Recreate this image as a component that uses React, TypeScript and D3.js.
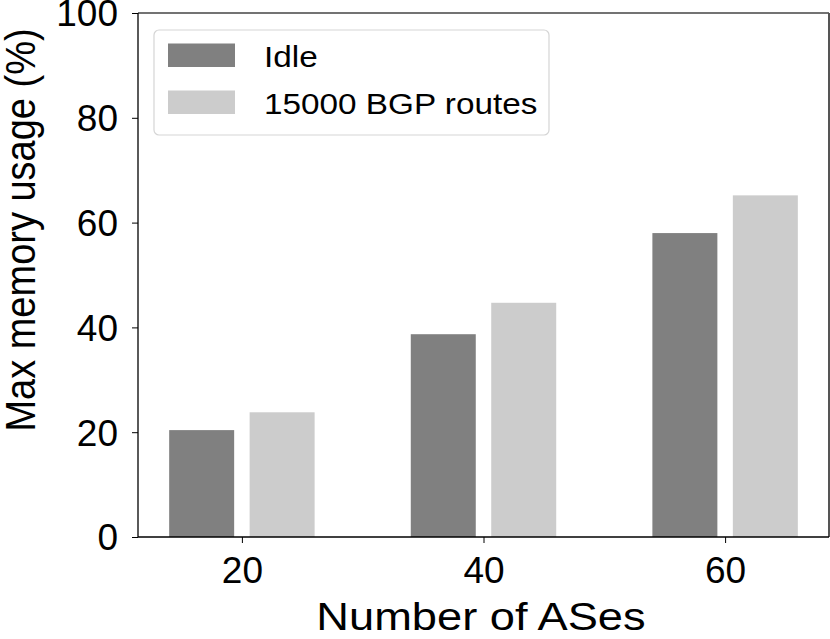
import React, { useEffect, useRef } from "react";
import * as d3 from "d3";

// chart data
const asCounts = [20, 40, 60];
const idleUsage = [20.4, 38.7, 58.0];
const bgpUsage = [23.8, 44.7, 65.2];
const seriesNames = ["Idle", "15000 BGP routes"];
const seriesColors = ["#808080", "#cccccc"];
const yTicks = [0, 20, 40, 60, 80, 100];

const App = () => {
  const svgRef = useRef<SVGSVGElement | null>(null);

  useEffect(() => {
    const width = 830;
    const height = 639;
    const left = 138;
    const right = 829;
    const top = 13;
    const bottom = 537;
    const font = "'Liberation Sans', Arial, Helvetica, sans-serif";
    const stretch = 1.16; // the figure's text is a bit wider than tall

    const svg = d3.select(svgRef.current).attr("width", width).attr("height", height);
    svg.selectAll("*").remove();

    const xScale = d3.scaleLinear().domain([11.4, 68.6]).range([left, right]);
    const yScale = d3.scaleLinear().domain([0, 100]).range([bottom, top]);

    const barW = 5.38; // in x units
    const offset = 3.33;
    const series = [idleUsage, bgpUsage];

    series.forEach((vals, si) => {
      const shift = si === 0 ? -offset : offset;
      svg
        .append("g")
        .selectAll("rect")
        .data(asCounts)
        .enter()
        .append("rect")
        .attr("x", (d) => xScale(d + shift - barW / 2))
        .attr("width", xScale(barW) - xScale(0))
        .attr("y", (d, i) => yScale(vals[i]))
        .attr("height", (d, i) => yScale(0) - yScale(vals[i]))
        .attr("fill", seriesColors[si]);
    });

    // spines
    svg.append("line").attr("x1", left).attr("x2", right).attr("y1", top).attr("y2", top)
      .attr("stroke", "#444").attr("stroke-width", 1.5);
    svg.append("line").attr("x1", right).attr("x2", right).attr("y1", top).attr("y2", bottom)
      .attr("stroke", "#555").attr("stroke-width", 2);

    const xAxis = d3.axisBottom(xScale).tickValues(asCounts).tickSize(6).tickPadding(14);
    const gx = svg.append("g").attr("transform", `translate(0,${bottom})`).call(xAxis);
    gx.select(".domain").attr("stroke", "#000").attr("stroke-width", 1.3)
      .attr("d", `M${left},0H${right}`);
    gx.selectAll("text").attr("font-family", font).attr("font-size", 37).attr("fill", "#000");

    const yAxis = d3.axisLeft(yScale).tickValues(yTicks).tickSize(6).tickPadding(14);
    const gy = svg.append("g").attr("transform", `translate(${left},0)`).call(yAxis);
    gy.select(".domain").attr("stroke", "#000").attr("stroke-width", 1.3)
      .attr("d", `M0,${top}V${bottom}`);
    gy.selectAll("text").attr("font-family", font).attr("font-size", 37).attr("fill", "#000")
      .attr("dy", "0.35em");

    svg.append("text")
      .attr("transform", `translate(481,630) scale(${stretch},1)`)
      .attr("text-anchor", "middle")
      .attr("font-family", font)
      .attr("font-size", 39)
      .text("Number of ASes");

    svg.append("text")
      .attr("transform", `translate(35,230) scale(1.12,1) rotate(-90)`)
      .attr("text-anchor", "middle")
      .attr("font-family", font)
      .attr("font-size", 38)
      .text("Max memory usage (%)");

    // legend
    const legend = svg.append("g");
    legend.append("rect")
      .attr("x", 154).attr("y", 30).attr("width", 395).attr("height", 105)
      .attr("rx", 5).attr("fill", "#fff").attr("stroke", "#d5d5d5").attr("stroke-width", 1.2);
    seriesNames.forEach((name, i) => {
      legend.append("rect")
        .attr("x", 168).attr("y", 43.5 + i * 47).attr("width", 67).attr("height", 23.5)
        .attr("fill", seriesColors[i]);
      legend.append("text")
        .attr("transform", `translate(264,${66.5 + i * 47}) scale(1.11,1)`)
        .attr("font-family", font).attr("font-size", 30)
        .text(name);
    });
  }, []);

  return (
    <div>
      <svg ref={svgRef} style={{ position: "absolute", left: 0, top: 0 }}></svg>
    </div>
  );
};

export default App;
